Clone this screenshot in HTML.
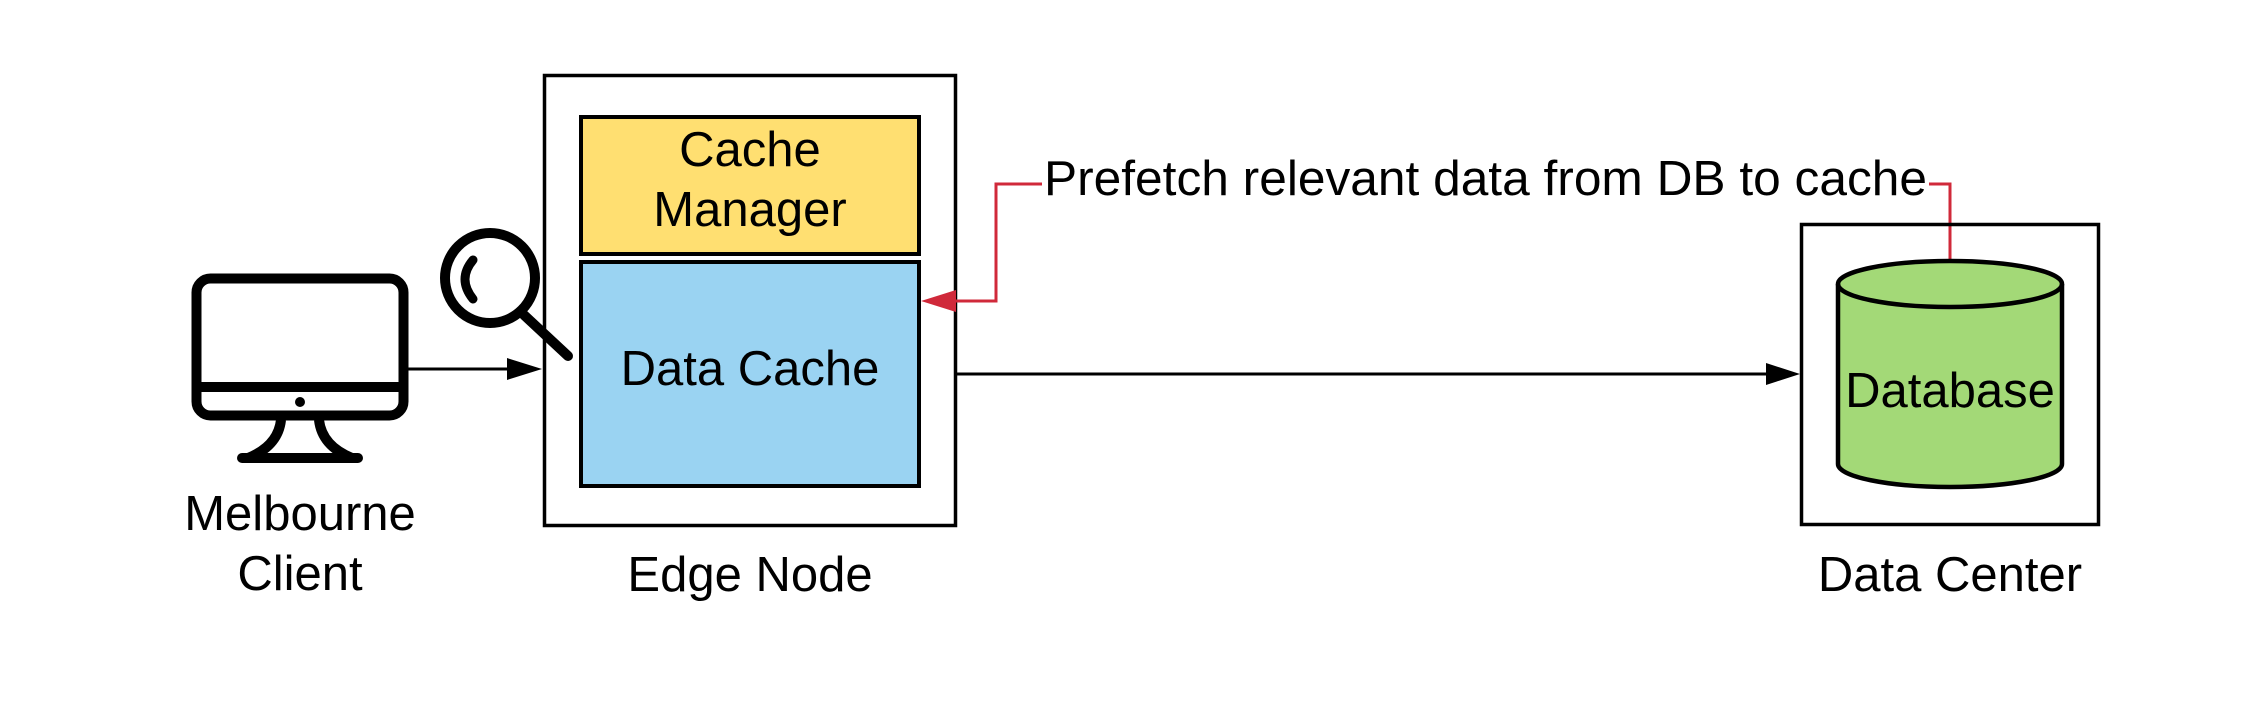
<!DOCTYPE html>
<html><head><meta charset="utf-8"><style>
html,body{margin:0;padding:0;background:#fff;}
svg{display:block;}
text{font-family:"Liberation Sans",sans-serif;font-size:49px;fill:#000;}
</style></head><body>
<svg width="2250" height="713" viewBox="0 0 2250 713" xmlns="http://www.w3.org/2000/svg">
<!-- monitor -->
<rect x="196.5" y="278.5" width="207" height="137" rx="14" fill="none" stroke="#000" stroke-width="10"/>
<line x1="196" y1="387" x2="404" y2="387" stroke="#000" stroke-width="10"/>
<circle cx="300" cy="402" r="5" fill="#000"/>
<path d="M281 420 Q278 446 248 458" fill="none" stroke="#000" stroke-width="10"/>
<path d="M319 420 Q322 446 352 458" fill="none" stroke="#000" stroke-width="10"/>
<line x1="242" y1="458" x2="358" y2="458" stroke="#000" stroke-width="10" stroke-linecap="round"/>
<text x="300" y="530" text-anchor="middle">Melbourne</text>
<text x="300" y="590" text-anchor="middle">Client</text>
<!-- client arrow -->
<line x1="408" y1="369" x2="510" y2="369" stroke="#000" stroke-width="3"/>
<polygon points="507,358 542,369 507,380" fill="#000"/>
<!-- magnifier -->
<circle cx="490" cy="278" r="45" fill="none" stroke="#000" stroke-width="10"/>
<path d="M473 260 Q457 279 473 299" fill="none" stroke="#000" stroke-width="9" stroke-linecap="round"/>
<line x1="524" y1="315" x2="568" y2="356" stroke="#000" stroke-width="10" stroke-linecap="round"/>
<!-- edge node -->
<rect x="544.5" y="75.5" width="411" height="450" fill="none" stroke="#000" stroke-width="3.5"/>
<rect x="581" y="117" width="338" height="137" fill="#FFDF71" stroke="#000" stroke-width="4"/>
<rect x="581" y="262" width="338" height="224" fill="#9AD3F2" stroke="#000" stroke-width="4"/>
<text x="750" y="166" text-anchor="middle">Cache</text>
<text x="750" y="226" text-anchor="middle">Manager</text>
<text x="750" y="385" text-anchor="middle">Data Cache</text>
<text x="750" y="591" text-anchor="middle">Edge Node</text>
<!-- main arrow -->
<line x1="956" y1="374" x2="1770" y2="374" stroke="#000" stroke-width="3"/>
<polygon points="1766,363 1800,374 1766,385" fill="#000"/>
<!-- red connector -->
<polyline points="1042,184 996,184 996,301 955,301" fill="none" stroke="#D0293A" stroke-width="3"/>
<polygon points="956,290 921,301 956,312" fill="#D0293A"/>
<polyline points="1929,184 1950,184 1950,262" fill="none" stroke="#D0293A" stroke-width="3"/>
<text x="1044" y="195" textLength="883" lengthAdjust="spacingAndGlyphs">Prefetch relevant data from DB to cache</text>
<!-- data center -->
<rect x="1801.5" y="224.5" width="297" height="300" fill="none" stroke="#000" stroke-width="3.5"/>
<path d="M1838 284 L1838 464 A112 23 0 0 0 2062 464 L2062 284 A112 23 0 0 0 1838 284 Z" fill="#A3D977" stroke="#000" stroke-width="4.5"/>
<path d="M1838 284 A112 23 0 0 0 2062 284" fill="none" stroke="#000" stroke-width="4.5"/>
<text x="1950" y="407" text-anchor="middle">Database</text>
<text x="1950" y="591" text-anchor="middle">Data Center</text>
</svg>
</body></html>
